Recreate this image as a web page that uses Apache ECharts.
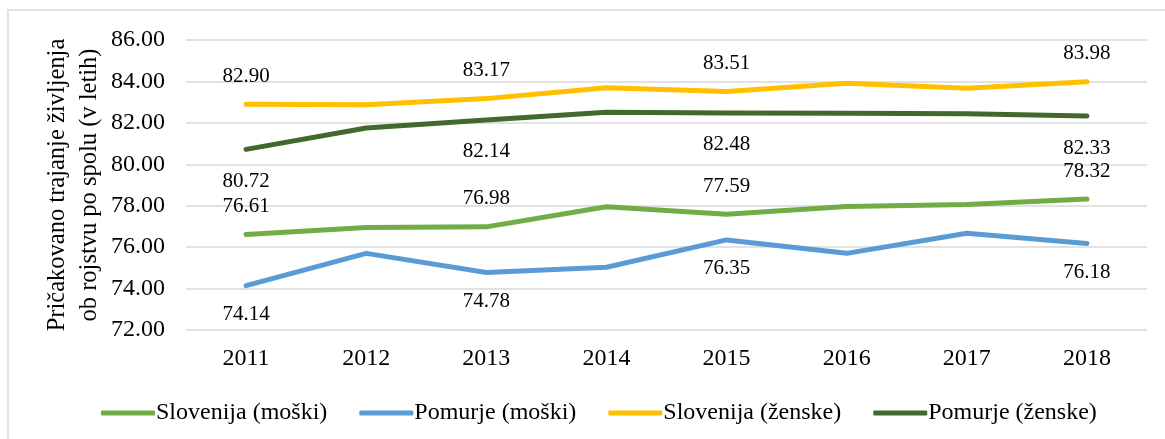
<!DOCTYPE html>
<html>
<head>
<meta charset="utf-8">
<script src="https://cdn.jsdelivr.net/npm/echarts@6/dist/echarts.min.js"></script>
<style>
html,body{margin:0;padding:0;background:#fff;}
#chart{width:1165px;height:439px;}
</style>
</head>
<body>
<div id="chart"></div>
<script>
const years = ['2011','2012','2013','2014','2015','2016','2017','2018'];
const sloMoski = [76.61, 76.95, 76.98, 77.95, 77.59, 77.96, 78.06, 78.32];
const pomMoski = [74.14, 75.70, 74.78, 75.03, 76.35, 75.70, 76.67, 76.18];
const sloZenske = [82.90, 82.88, 83.17, 83.70, 83.51, 83.91, 83.67, 83.98];
const pomZenske = [80.72, 81.75, 82.14, 82.51, 82.48, 82.46, 82.44, 82.33];
const seriesNames = ['Slovenija (moški)', 'Pomurje (moški)', 'Slovenija (ženske)', 'Pomurje (ženske)'];
const labeledIdx = [0, 2, 4, 7];
const yTitle = 'Pričakovano trajanje življenja\nob rojstvu po spolu (v letih)';

const FONT = '"Liberation Serif", "Times New Roman", serif';
const colors = ['#70AD47', '#5B9BD5', '#FFC000', '#43682B'];
const labelPos = ['top', 'bottom', 'top', 'bottom'];
const labelDist = [17, 18, 17, 21];

function build(values, si) {
  return values.map((v, i) => ({
    value: v,
    label: {
      show: labeledIdx.indexOf(i) >= 0,
      position: labelPos[si],
      distance: labelDist[si],
      formatter: p => p.value.toFixed(2),
      fontFamily: FONT,
      fontSize: 21,
      color: '#000'
    }
  }));
}

const allData = [sloMoski, pomMoski, sloZenske, pomZenske];

const chart = echarts.init(document.getElementById('chart'), null, {renderer: 'canvas'});
chart.setOption({
  animation: false,
  backgroundColor: '#fff',
  textStyle: {fontFamily: FONT},
  graphic: [{
    type: 'rect',
    shape: {x: 8, y: 10, width: 1300, height: 600},
    style: {fill: 'none', stroke: '#d9d9d9', lineWidth: 1.5},
    silent: true,
    z: -10
  }],
  grid: {left: 186, right: 18, top: 40, bottom: 109},
  legend: {
    left: 96,
    top: 396,
    itemWidth: 54,
    itemHeight: 5,
    itemGap: 32,
    icon: 'roundRect',
    textStyle: {fontFamily: FONT, fontSize: 24, color: '#000', padding: [0,0,0,-4]},
    data: seriesNames
  },
  xAxis: {
    type: 'category',
    data: years,
    boundaryGap: true,
    axisLine: {show: false},
    axisTick: {show: false},
    axisLabel: {fontFamily: FONT, fontSize: 24, color: '#000', margin: 17}
  },
  yAxis: {
    type: 'value',
    min: 72, max: 86, interval: 2,
    axisLabel: {fontFamily: FONT, fontSize: 24, color: '#000', margin: 21, formatter: v => v.toFixed(2)},
    axisLine: {show: false},
    axisTick: {show: false},
    splitLine: {lineStyle: {color: '#d9d9d9', width: 1.5}},
    name: yTitle,
    nameLocation: 'middle',
    nameRotate: 90,
    nameGap: 80,
    nameMoveOverlap: false,
    nameTextStyle: {fontFamily: FONT, fontSize: 24.5, color: '#000', lineHeight: 32}
  },
  series: allData.map((d, si) => ({
    name: seriesNames[si],
    type: 'line',
    data: build(d, si),
    symbol: 'circle',
    symbolSize: 1,
    showSymbol: true,
    lineStyle: {color: colors[si], width: 5, cap: 'round', join: 'round'},
    itemStyle: {color: colors[si]},
    labelLayout: {hideOverlap: false},
    z: 2
  }))
});
</script>
</body>
</html>
